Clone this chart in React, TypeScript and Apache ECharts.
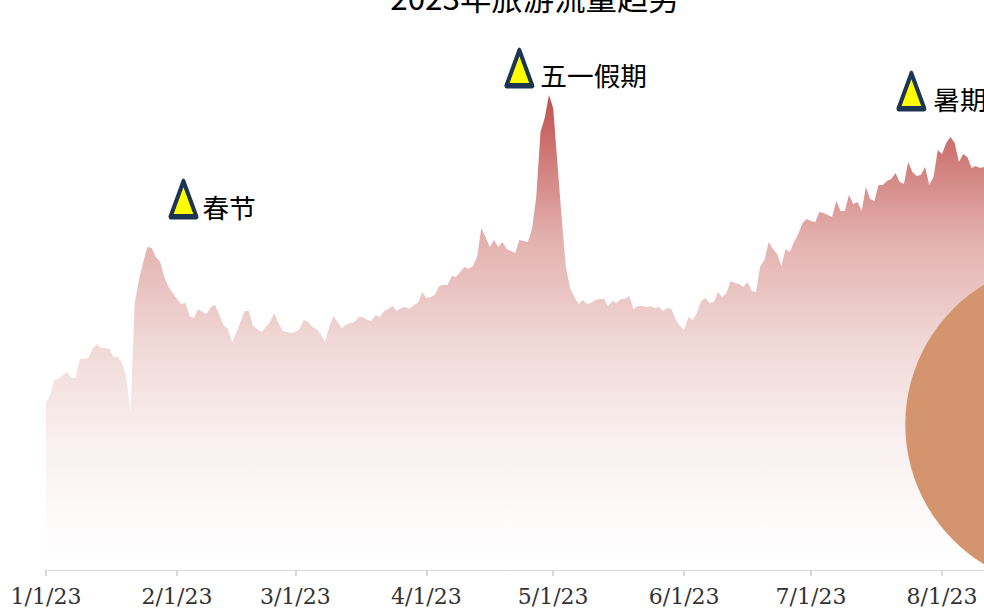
import React, { useEffect, useRef } from "react";
import * as echarts from "echarts";

const titleText = "2023年旅游流量趋势";

const flowValues: number[] = [
  167,175,190,191,195,198,192,192,211,211,212,221,226,222,222,221,213,213,207,193,158,267,290,308,323,322,313,308,293,283,
  277,271,266,267,254,252,261,258,256,263,265,255,245,241,228,237,248,259,259,244,241,238,243,248,257,247,239,238,237,238,
  241,250,248,243,241,236,228,243,254,248,242,245,247,248,253,253,250,249,255,253,259,261,264,259,262,263,261,265,267,278,
  272,273,275,284,285,285,294,293,298,303,301,304,313,342,333,323,330,323,328,321,319,317,330,329,328,341,373,438,452,475,
  462,407,353,303,282,273,266,270,266,267,270,271,271,264,269,267,271,271,274,261,264,264,263,264,262,263,259,262,261,250,
  244,240,253,250,257,269,272,267,268,278,273,277,289,287,286,283,288,279,278,304,310,328,321,316,304,321,318,328,336,347,
  351,349,348,358,357,355,353,369,359,359,375,366,368,359,383,371,369,385,385,389,391,397,388,386,408,398,394,395,403,385,
  393,420,416,427,433,427,408,416,413,402,404,402,403,
];

const monthLengths = [31, 28, 31, 30, 31, 30, 31, 31, 30, 31, 30, 31];
const categories: string[] = [];
monthLengths.forEach((len, m) => {
  for (let d = 1; d <= len; d++) categories.push(`${m + 1}/${d}/23`);
});
const lastVisibleMonthStart = 212;

const holidayNames = ["春节", "五一假期", "暑期"];
const holidayDates = ["2/3/23", "4/23/23", "7/25/23"];
const holidayLevels = [371, 502, 479];
const holidayOffsets = [-2, 0, -1];
const holidayLabelShift = [
  [-3, 7],
  [-1, 6],
  [0, 7],
];

const bubbleDate = 242;
const bubbleValue = 145.5;

const isVisibleMonthStart = (i: number, v: string) => i <= lastVisibleMonthStart && /\/1\/23$/.test(v);

export default function App() {
  const ref = useRef<HTMLDivElement>(null);
  useEffect(() => {
    const chart = echarts.init(ref.current!, undefined, { renderer: "svg" });
    chart.setOption({
      animation: false,
      backgroundColor: "#fff",
      title: {
        text: titleText,
        left: 530,
        top: -24,
        textAlign: "center",
        textStyle: { fontFamily: "Noto Sans CJK SC", fontSize: 31.4, fontWeight: "normal", color: "#000" },
      },
      grid: { left: 46, top: 20, height: 550, width: 1538.4 },
      xAxis: {
        type: "category",
        data: categories,
        boundaryGap: false,
        axisLine: { lineStyle: { color: "#d8d8d8", width: 2 } },
        axisTick: { length: 6, lineStyle: { color: "#d8d8d8", width: 2 }, interval: isVisibleMonthStart },
        axisLabel: {
          interval: isVisibleMonthStart,
          fontFamily: "DejaVu Serif",
          fontSize: 22,
          color: "#333",
          margin: 15,
          hideOverlap: false,
        },
      },
      yAxis: { type: "value", min: 0, max: 550, show: false },
      series: [
        {
          type: "line",
          data: flowValues,
          showSymbol: false,
          symbol: "none",
          lineStyle: { width: 0, opacity: 0 },
          areaStyle: {
            opacity: 1,
            color: new echarts.graphic.LinearGradient(0, 0, 0, 1, [
              { offset: 0, color: "#c0514e" },
              { offset: 0.3, color: "#e3b0ae" },
              { offset: 0.52, color: "#f0d8d6" },
              { offset: 0.71, color: "#f8eeed" },
              { offset: 0.92, color: "#fefcfc" },
              { offset: 1, color: "#ffffff" },
            ]),
          },
          markPoint: {
            symbol: "triangle",
            symbolSize: [26, 35.5],
            itemStyle: { color: "#ffff00", borderColor: "#1c3553", borderWidth: 4.5, borderJoin: "round" },
            label: {
              show: true,
              position: "right",
              distance: 7,
              formatter: "{b}",
              fontFamily: "Noto Sans CJK SC",
              fontSize: 26.7,
              color: "#000",
            },
            data: holidayNames.map((name, i) => ({
              name,
              coord: [holidayDates[i], holidayLevels[i]],
              symbolOffset: [holidayOffsets[i], 0],
              label: { offset: holidayLabelShift[i] },
            })),
          },
        },
        {
          type: "scatter",
          clip: false,
          z: 5,
          symbol: "circle",
          symbolSize: 327,
          itemStyle: { color: "#d4956e", opacity: 1 },
          data: [[bubbleDate, bubbleValue]],
        },
      ],
    });
    return () => chart.dispose();
  }, []);
  return (
    <div style={{ position: "fixed", left: 0, top: 0, width: 984, height: 608, overflow: "hidden" }}>
      <div ref={ref} style={{ width: 1700, height: 608 }} />
    </div>
  );
}
